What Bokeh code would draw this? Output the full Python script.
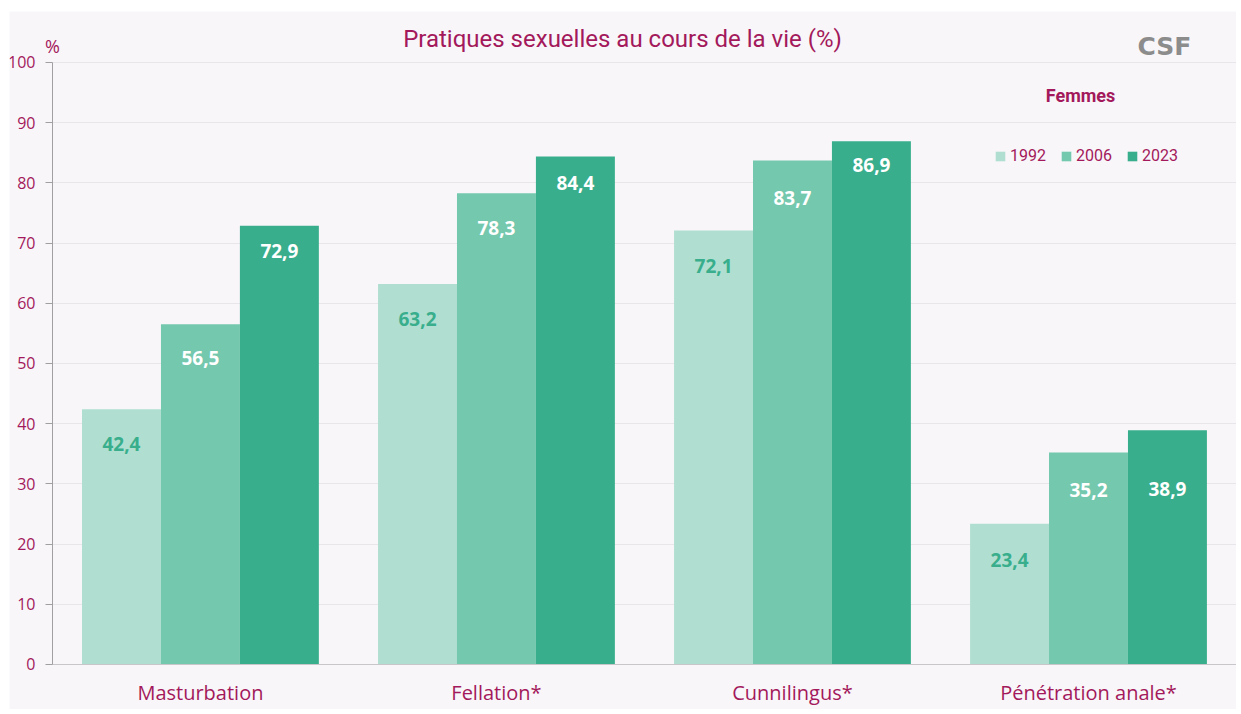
from bokeh.plotting import figure
from bokeh.models import ColumnDataSource, Legend, LegendItem, Label, FixedTicker, Range1d
from bokeh.core.properties import value
from bokeh.embed import file_html
from bokeh.resources import INLINE

# ---- data ----
categories = ["Masturbation", "Fellation*", "Cunnilingus*", "Pénétration anale*"]
years = ["1992", "2006", "2023"]
v1992 = [42.4, 63.2, 72.1, 23.4]
v2006 = [56.5, 78.3, 83.7, 35.2]
v2023 = [72.9, 84.4, 86.9, 38.9]
y_ticks = [0, 10, 20, 30, 40, 50, 60, 70, 80, 90, 100]
title_text = "Pratiques sexuelles au cours de la vie (%)"
group_title = "Femmes"

# ---- styles ----
MAG = "#a3195b"
BG = "#f8f6f9"
colors = ["#b0dfd1", "#74c8ad", "#38ae8c"]
label_colors = ["#38ae8c", "#ffffff", "#ffffff"]
label_offsets = [[35, 35, 36, 36], [34, 35, 37, 37], [25, 27, 24, 59]]
bar_w = 0.2667
dodges = [-bar_w, 0.0, bar_w]

series = [v1992, v2006, v2023]
centers = [i + 0.5 for i in range(len(categories))]

p = figure(x_range=Range1d(-0.145, 4.0), y_range=Range1d(-7.475, 108.47),
           width=1227, height=698, output_backend="svg", toolbar_location=None,
           min_border_left=0, min_border_right=0, min_border_top=0, min_border_bottom=0)
p.margin = (11, 0, 0, 9)
p.background_fill_color = BG
p.border_fill_color = BG
p.outline_line_color = None

items = []
for i, (yr, vals) in enumerate(zip(years, series)):
    src = ColumnDataSource(dict(
        x=[c + dodges[i] for c in centers], val=vals,
        lab=[f"{v:.1f}".replace(".", ",") for v in vals],
        off=label_offsets[i]))
    r = p.vbar(x="x", top="val", bottom=0, width=bar_w, source=src,
               fill_color=colors[i], line_color=None)
    items.append(LegendItem(label=yr, renderers=[r]))
    p.text(x="x", y="val", text="lab", source=src,
           y_offset="off", text_align="center", text_baseline="middle",
           text_font=value("Open Sans"), text_font_style="bold",
           text_font_size="19px", text_color=label_colors[i])

# axes
p.yaxis.fixed_location = 0
p.yaxis.ticker = FixedTicker(ticks=y_ticks)
p.yaxis.bounds = (0, 100)
p.yaxis.axis_line_color = "#a0a0a0"
p.yaxis.major_tick_line_color = "#a0a0a0"
p.yaxis.major_tick_out = 7
p.yaxis.major_tick_in = 0
p.yaxis.minor_tick_line_color = None
p.yaxis.major_label_standoff = 10
p.yaxis.major_label_text_font = "Open Sans"
p.yaxis.major_label_text_font_size = "16px"
p.yaxis.major_label_text_color = MAG

p.xaxis.fixed_location = 0
p.xaxis.ticker = FixedTicker(ticks=centers)
p.xaxis.major_label_overrides = {c: name for c, name in zip(centers, categories)}
p.xaxis.bounds = (0, 4)
p.xaxis.axis_line_color = "#c8c6ca"
p.xaxis.major_tick_line_color = None
p.xaxis.minor_tick_line_color = None
p.xaxis.major_label_standoff = 9
p.xaxis.major_label_text_font = "Open Sans"
p.xaxis.major_label_text_font_size = "20px"
p.xaxis.major_label_text_color = MAG

p.xgrid.grid_line_color = None
p.ygrid.ticker = FixedTicker(ticks=y_ticks)
p.ygrid.grid_line_color = "#e8e6ea"
p.ygrid.bounds = (0, 100)
p.ygrid.cross_bounds = (0, 4)

# legend
legend = Legend(items=items, orientation="horizontal", location=(985, 544),
                glyph_width=12, glyph_height=12, label_standoff=4, spacing=14,
                padding=0, margin=0, border_line_color=None, background_fill_alpha=0,
                label_text_font="Roboto", label_text_font_size="16px",
                label_text_color=MAG, label_height=12)
p.add_layout(legend)

# annotations (screen units relative to the frame's bottom-left corner)
p.add_layout(Label(x=613, y=671, x_units="screen", y_units="screen", text=title_text,
                   text_align="center", text_baseline="middle", text_font="Roboto",
                   text_font_size="24px", text_color=MAG))
p.add_layout(Label(x=1071, y=614, x_units="screen", y_units="screen", text=group_title,
                   text_align="center", text_baseline="middle", text_font="Roboto",
                   text_font_style="bold", text_font_size="18px", text_color=MAG))
p.add_layout(Label(x=43, y=664, x_units="screen", y_units="screen", text="%",
                   text_align="center", text_baseline="middle", text_font="Open Sans",
                   text_font_size="18px", text_color=MAG))
p.add_layout(Label(x=1155, y=663, x_units="screen", y_units="screen", text="CSF",
                   text_align="center", text_baseline="middle", text_font="DejaVu Sans",
                   text_font_style="bold", text_font_size="25px", text_color="#8c8c8c"))

open("out.html", "w").write(file_html(p, INLINE))
